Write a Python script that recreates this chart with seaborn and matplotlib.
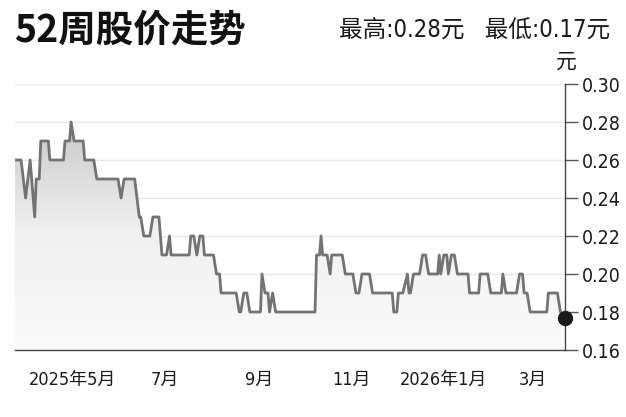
import pandas as pd
import numpy as np
import matplotlib
matplotlib.use("Agg")
import matplotlib.pyplot as plt
import matplotlib.dates as mdates
from matplotlib.colors import LinearSegmentedColormap
import seaborn as sns

# price trace (turning points only)
dates = [
    "2025-03-24", "2025-03-28", "2025-03-31", "2025-04-03", "2025-04-06", "2025-04-07",
    "2025-04-09", "2025-04-10", "2025-04-15", "2025-04-16", "2025-04-25", "2025-04-26",
    "2025-04-29", "2025-04-30", "2025-05-02", "2025-05-08", "2025-05-09", "2025-05-15",
    "2025-05-17", "2025-05-31", "2025-06-02", "2025-06-04", "2025-06-11", "2025-06-14",
    "2025-06-15", "2025-06-17", "2025-06-21", "2025-06-23", "2025-06-27", "2025-06-29",
    "2025-07-02", "2025-07-04", "2025-07-05", "2025-07-17", "2025-07-18", "2025-07-20",
    "2025-07-22", "2025-07-24", "2025-07-26", "2025-07-27", "2025-08-02", "2025-08-04",
    "2025-08-06", "2025-08-07", "2025-08-17", "2025-08-19", "2025-08-20", "2025-08-22",
    "2025-08-24", "2025-08-26", "2025-09-02", "2025-09-03", "2025-09-05", "2025-09-07",
    "2025-09-08", "2025-09-10", "2025-09-12", "2025-10-08", "2025-10-09", "2025-10-11",
    "2025-10-12", "2025-10-13", "2025-10-16", "2025-10-18", "2025-10-19", "2025-10-26",
    "2025-10-28", "2025-11-02", "2025-11-04", "2025-11-06", "2025-11-08", "2025-11-13",
    "2025-11-15", "2025-11-28", "2025-11-29", "2025-12-01", "2025-12-02", "2025-12-05",
    "2025-12-08", "2025-12-09", "2025-12-10", "2025-12-12", "2025-12-16", "2025-12-18",
    "2025-12-20", "2025-12-22", "2025-12-28", "2025-12-29", "2025-12-30", "2026-01-01",
    "2026-01-03", "2026-01-04", "2026-01-06", "2026-01-08", "2026-01-10", "2026-01-17",
    "2026-01-18", "2026-01-24", "2026-01-25", "2026-01-30", "2026-02-01", "2026-02-08",
    "2026-02-09", "2026-02-11", "2026-02-18", "2026-02-20", "2026-02-22", "2026-02-23",
    "2026-02-25", "2026-02-27", "2026-03-10", "2026-03-11", "2026-03-17", "2026-03-19",
    "2026-03-22",
]
prices = [
    0.26, 0.26, 0.24, 0.26, 0.23, 0.25,
    0.25, 0.27, 0.27, 0.26, 0.26, 0.27,
    0.27, 0.28, 0.27, 0.27, 0.26, 0.26,
    0.25, 0.25, 0.24, 0.25, 0.25, 0.23,
    0.23, 0.22, 0.22, 0.23, 0.23, 0.21,
    0.21, 0.22, 0.21, 0.21, 0.22, 0.22,
    0.21, 0.22, 0.22, 0.21, 0.21, 0.20,
    0.20, 0.19, 0.19, 0.18, 0.18, 0.19,
    0.19, 0.18, 0.18, 0.20, 0.19, 0.19,
    0.18, 0.19, 0.18, 0.18, 0.21, 0.21,
    0.22, 0.21, 0.21, 0.20, 0.21, 0.21,
    0.20, 0.20, 0.19, 0.19, 0.20, 0.20,
    0.19, 0.19, 0.18, 0.18, 0.19, 0.19,
    0.20, 0.19, 0.19, 0.20, 0.20, 0.21,
    0.21, 0.20, 0.20, 0.21, 0.20, 0.21,
    0.21, 0.20, 0.21, 0.21, 0.20, 0.20,
    0.19, 0.19, 0.20, 0.20, 0.19, 0.19,
    0.20, 0.19, 0.19, 0.20, 0.20, 0.19,
    0.19, 0.18, 0.18, 0.19, 0.19, 0.18,
    0.177,
]
tick_dates = ["2025-05-01", "2025-07-01", "2025-09-01", "2025-11-01", "2026-01-01", "2026-03-01"]
tick_labels = ["2025年5月", "7月", "9月", "11月", "2026年1月", "3月"]
y_ticks = [0.16, 0.18, 0.20, 0.22, 0.24, 0.26, 0.28, 0.30]
title = "52周股价走势"
summary = "最高:0.28元   最低:0.17元"

sns.set_theme(style="white")
plt.rcParams['font.family'] = ['DejaVu Sans', 'Noto Sans CJK SC']
plt.rcParams['font.stretch'] = 'condensed'

df = pd.DataFrame({"date": pd.to_datetime(dates), "price": prices})

fig = plt.figure(figsize=(6.26, 4.17), dpi=100)
ax = fig.add_axes([15 / 626, 1 - 350 / 417, 550 / 626, 266 / 417])

x0, x1 = pd.Timestamp(dates[0]), pd.Timestamp(dates[-1])

# grid lines
for v in y_ticks:
    ax.axhline(v, color="#e8e8e8", lw=1, zorder=0)

# gradient fill under the line
poly = ax.fill_between(df["date"], df["price"], 0.16, facecolor="none", edgecolor="none")
cmap = LinearSegmentedColormap.from_list("g", ["#fbfbfb", "#f0f0f0", "#c6c6c6"])
grad = np.linspace(0, 1, 256).reshape(-1, 1)
img = ax.imshow(grad, cmap=cmap, aspect="auto", origin="lower",
                extent=[mdates.date2num(x0), mdates.date2num(x1), 0.16, 0.285], zorder=1)
img.set_clip_path(poly.get_paths()[0], transform=ax.transData)
ax.set_xlim(x0, x1)
ax.set_ylim(0.16, 0.30)

sns.lineplot(data=df, x="date", y="price", ax=ax, color="#737373", lw=2, sort=False, zorder=3)
ax.scatter([df["date"].iloc[-1]], [df["price"].iloc[-1]], s=100, color="#1a1a1a", zorder=5, clip_on=False)

# axes styling
for s in ["top", "left"]:
    ax.spines[s].set_visible(False)
for s in ["bottom", "right"]:
    ax.spines[s].set_color("#444444")
    ax.spines[s].set_linewidth(1)

ax.set_xticks(pd.to_datetime(tick_dates))
ax.set_xticklabels(tick_labels, fontsize=13)
ax.yaxis.tick_right()
ax.set_yticks(y_ticks)
ax.set_yticklabels([f"{v:.2f}" for v in y_ticks], fontsize=14)
ax.tick_params(axis="x", direction="out", length=9, width=1, color="#555555", pad=6, labelcolor="#1a1a1a")
ax.tick_params(axis="y", direction="out", length=9, width=1, color="#555555", pad=3, labelcolor="#1a1a1a")
ax.set_xlabel("")
ax.set_ylabel("")

fig.text(14 / 626, 1 - 30 / 417, title, fontsize=27, fontweight="bold", va="center", ha="left",
         family=['Noto Sans CJK SC', 'DejaVu Sans'], color="#111111")
fig.text(610 / 626, 1 - 30 / 417, summary, fontsize=17, va="center", ha="right", color="#1a1a1a")
fig.text(566 / 626, 1 - 62 / 417, "元", fontsize=15, va="center", ha="center",
         family=['Noto Sans CJK SC', 'DejaVu Sans'], color="#1a1a1a")

fig.savefig("out.png", dpi=100, facecolor="white")
